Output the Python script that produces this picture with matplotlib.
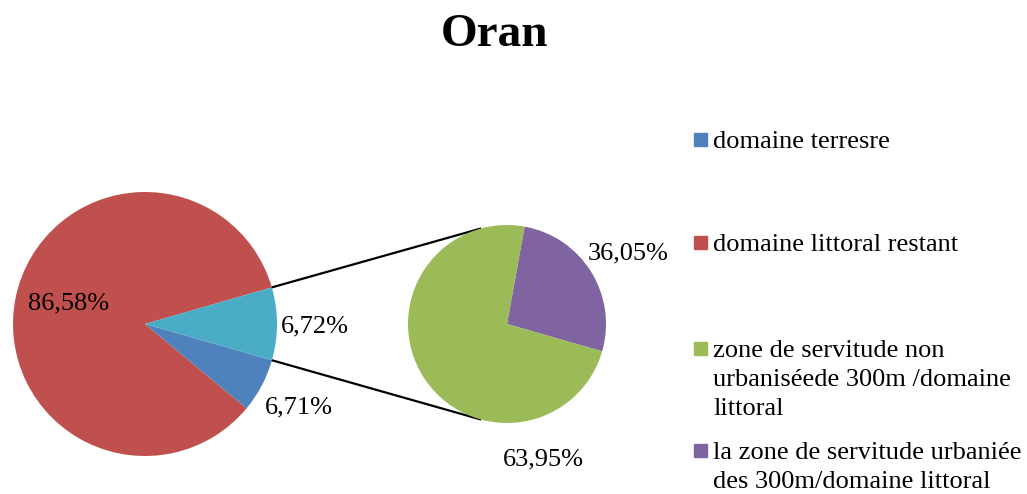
"""Oran - pie of pie of the littoral domain"""

import numpy as np
import matplotlib
matplotlib.use('Agg')
import matplotlib.pyplot as plt
from matplotlib.patches import Rectangle

plt.rcParams['font.family'] = ['Liberation Serif', 'DejaVu Serif']

# main pie (slice sizes, labels as printed)
main_names = ['domaine littoral restant', 'domaine terresre', 'autre']
main_sizes = [84.5, 6.6, 8.9]
main_labels = ['86,58%', '6,71%', '6,72%']

# secondary pie (split of the "autre" slice)
sub_names = ['la zone de servitude urbaniée\ndes 300m/domaine littoral',
             'zone de servitude non\nurbaniséede 300m /domaine\nlittoral']
sub_sizes = [26.6, 73.4]
sub_labels = ['36,05%', '63,95%']

legend_names = ['domaine terresre', 'domaine littoral restant',
                'zone de servitude non\nurbaniséede 300m /domaine\nlittoral',
                'la zone de servitude urbaniée\ndes 300m/domaine littoral']

c_red, c_blue, c_cyan = '#C0504D', '#4F81BD', '#4BACC6'
c_purple, c_green = '#8064A2', '#9BBB59'
legend_colors = [c_blue, c_red, c_green, c_purple]

W, H = 1027, 494
fig = plt.figure(figsize=(W / 100, H / 100), dpi=100)
ax = fig.add_axes([0, 0, 1, 1])

c1, r1 = (145, 170), 132
c2, r2 = (507, 170), 99

w1, _ = ax.pie(main_sizes, colors=[c_red, c_blue, c_cyan], startangle=16.1,
               counterclock=True, center=c1, radius=r1)
w2, _ = ax.pie(sub_sizes, colors=[c_purple, c_green], startangle=-16,
               counterclock=True, center=c2, radius=r2)

# connector lines from the "autre" slice to the second pie
other = w1[2]
a_lo, a_hi = np.radians(other.theta1), np.radians(other.theta2)
for a_left, a_right in [(a_hi, np.radians(105.8)), (a_lo, np.radians(-105.8))]:
    x0 = c1[0] + r1 * np.cos(a_left)
    y0 = c1[1] + r1 * np.sin(a_left)
    x1 = c2[0] + r2 * np.cos(a_right)
    y1 = c2[1] + r2 * np.sin(a_right)
    ax.plot([x0, x1], [y0, y1], color='black', lw=1.6, zorder=0.5)

# data labels
lab_pos = [(69, 191), (298.5, 86.5), (314.5, 167.5)]
for txt, (x, y) in zip(main_labels, lab_pos):
    ax.text(x, y, txt, fontsize=19, ha='center', va='center')
sub_pos = [(628.5, 240.5), (543.5, 35)]
for txt, (x, y) in zip(sub_labels, sub_pos):
    ax.text(x, y, txt, fontsize=19, ha='center', va='center')

# legend drawn by hand to keep the Excel-like layout
leg_base = [346, 243, 137, 35]
line_step = 29
for name, col, yb in zip(legend_names, legend_colors, leg_base):
    ax.add_patch(Rectangle((694, yb + 2), 13, 13, color=col))
    for i, line in enumerate(name.split('\n')):
        ax.text(713, yb - i * line_step, line, fontsize=19, ha='left', va='baseline')

ax.text(W / 2 - 19, 459, 'Oran', fontsize=34, fontweight='bold', ha='center', va='center')

ax.set_xlim(0, W)
ax.set_ylim(0, H)
ax.set_aspect('equal')
ax.axis('off')
fig.savefig('out.png', dpi=100)
